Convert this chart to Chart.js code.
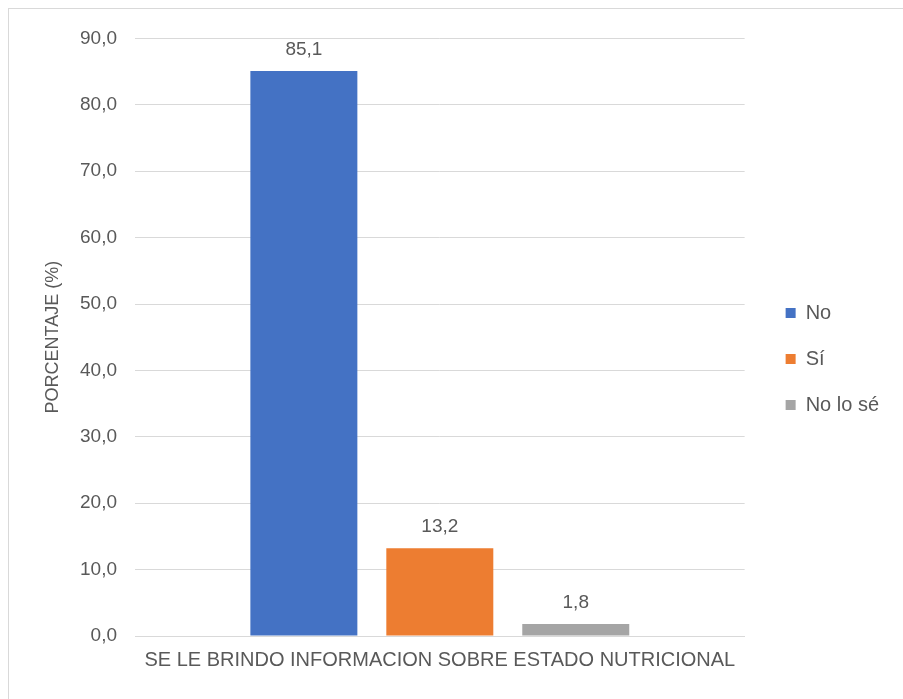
<!DOCTYPE html>
<html>
<head>
<meta charset="utf-8">
<script src="https://cdn.jsdelivr.net/npm/chart.js@4"></script>
<style>
  html, body { margin: 0; padding: 0; background: #fff; overflow: hidden; }
  #frame {
    position: absolute; left: 8px; top: 8px;
    width: 1000px; height: 1000px;
    border: 1px solid #d9d9d9;
  }
  #box { position: absolute; left: 9px; top: 9px; width: 894px; height: 672px; }
</style>
</head>
<body>
<div id="frame"></div>
<div id="box"><canvas id="chart"></canvas></div>
<script>
// survey answers, percent of respondents
const categories = ["SE LE BRINDO INFORMACION SOBRE ESTADO NUTRICIONAL"];
const seriesNames = ["No", "Sí", "No lo sé"];
const seriesValues = [[85.1], [13.2], [1.8]];
const seriesColors = ["#4472C4", "#ED7D31", "#A5A5A5"];
const yTicks = [0, 10, 20, 30, 40, 50, 60, 70, 80, 90];

const textColor = "#595959";
const family = "'Liberation Sans', Arial, sans-serif";
const fmt = v => v.toFixed(1).replace(".", ",");

// value labels above each bar
const barLabels = {
  id: "barLabels",
  afterDatasetsDraw(chart) {
    const ctx = chart.ctx;
    ctx.save();
    ctx.font = "19px " + family;
    ctx.fillStyle = textColor;
    ctx.textAlign = "center";
    ctx.textBaseline = "alphabetic";
    chart.data.datasets.forEach((ds, i) => {
      chart.getDatasetMeta(i).data.forEach((bar, j) => {
        ctx.fillText(fmt(ds.data[j]), bar.x, bar.y - 16);
      });
    });
    ctx.restore();
  }
};

// nudge the legend a bit away from the plot
const legendShift = {
  id: "legendShift",
  afterLayout(chart) {
    chart.legend.left += 15;
    chart.legend.right += 15;
  }
};

new Chart(document.getElementById("chart"), {
  type: "bar",
  data: {
    labels: categories,
    datasets: seriesNames.map((name, i) => ({
      label: name,
      data: seriesValues[i],
      backgroundColor: seriesColors[i],
      categoryPercentage: 0.669,
      barPercentage: 0.787
    }))
  },
  options: {
    responsive: true,
    maintainAspectRatio: false,
    animation: false,
    layout: { padding: { top: 28, right: 29, bottom: 0, left: 0 } },
    plugins: {
      legend: {
        position: "right",
        labels: {
          color: textColor,
          font: { size: 20, family: family },
          boxWidth: 10,
          boxHeight: 10,
          padding: 26
        }
      },
      tooltip: { enabled: false }
    },
    scales: {
      x: {
        grid: { display: false, drawTicks: false },
        border: { color: "#d9d9d9" },
        ticks: { color: textColor, font: { size: 20, family: family }, padding: 12 },
        afterFit(scale) { scale.height = 45; }
      },
      y: {
        min: 0,
        max: 90,
        afterBuildTicks(scale) { scale.ticks = yTicks.map(v => ({ value: v })); },
        grid: { color: "#d9d9d9", drawTicks: false },
        border: { display: false },
        ticks: { color: textColor, font: { size: 19, family: family }, padding: 18, callback: v => fmt(v) },
        title: {
          display: true,
          text: "PORCENTAJE (%)",
          color: textColor,
          font: { size: 18, family: family },
          padding: { top: 33, bottom: 0 }
        },
        afterFit(scale) { scale.width = 126; }
      }
    }
  },
  plugins: [barLabels, legendShift]
});
</script>
</body>
</html>
